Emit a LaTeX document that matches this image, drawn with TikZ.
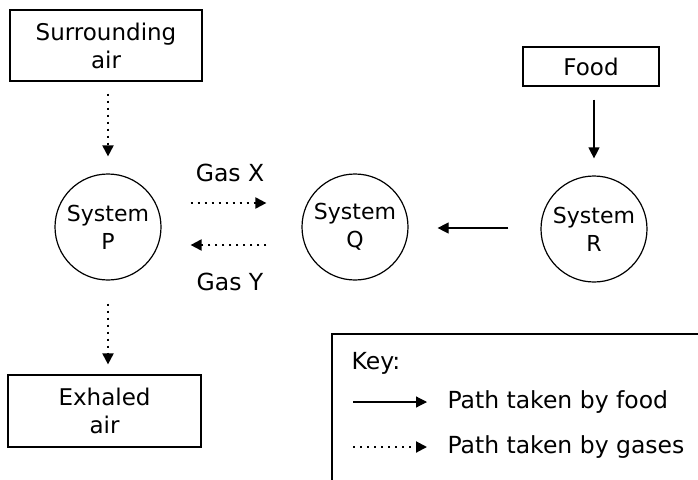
\documentclass[tikz,border=0pt]{standalone}
\usepackage{fontspec}
\setmainfont{DejaVu Sans}
\usetikzlibrary{positioning,arrows.meta}

\begin{document}
\begin{tikzpicture}[x=1pt,y=-1pt,
    system/.style={circle,draw,line width=1.2pt,inner sep=0pt,minimum size=106pt,align=center,font=\fontsize{22}{28}\selectfont},
    place/.style={rectangle,draw,line width=1.2pt,inner sep=0pt,align=center,font=\fontsize{23}{28}\selectfont},
    label/.style={font=\fontsize{23.5}{27}\selectfont},
    foodpath/.style={-{Triangle[length=11pt,width=11pt]},line width=1.2pt},
    gaspath/.style={-{Triangle[length=11pt,width=11pt]},line width=2pt,dash pattern=on 2pt off 5pt}
    ]

    \useasboundingbox (0,0) rectangle (698,479);

    % the three systems
    \node (P) [system] at (108,227) {System\\P};
    \node (Q) [system] at (355,227) {System\\Q};
    \node (R) [system] at (594,229) {System\\R};

    % boxes
    \node (air) [place,minimum width=192pt,minimum height=71pt] at (106,45.5) {Surrounding\\air};
    \node (exhaled) [place,minimum width=193pt,minimum height=72pt] at (104.5,411) {Exhaled\\air};
    \node (food) [place,minimum width=136pt,minimum height=39pt] at (591,66.5) {Food};

    % paths
    \draw[gaspath,shorten <=12pt,shorten >=17pt] (P.north |- air.south) -- (P.north);
    \draw[gaspath,shorten <=23pt,shorten >=10pt] (P.south) -- (exhaled.north -| P.south);
    \draw[foodpath,shorten <=13pt,shorten >=17pt] (food.south -| R.north) -- (R.north);
    \draw[foodpath,shorten <=32pt,shorten >=29pt] ([yshift=1pt]R.west) -- ([yshift=1pt]R.west -| Q.east);

    \draw[gaspath,shorten <=29pt,shorten >=35pt] ([yshift=24pt]P.east) -- ([yshift=24pt]Q.west);
    \draw[gaspath,shorten <=35pt,shorten >=29pt] ([yshift=-18pt]Q.west) -- ([yshift=-18pt]P.east);
    \node (gasX) [label] at (230,173) {Gas X};
    \node (gasY) [label] at (230,282) {Gas Y};

    % key
    \draw[line width=1.2pt] (332,490) |- (710,334);
    \node (key) [label,anchor=west] at (348,363) {Key:};
    \node (keyfood) [label,anchor=west] at (444,402) {Path taken by food};
    \node (keygas) [label,anchor=west] at (444,447) {Path taken by gases};
    \coordinate (kf) at (353,402);
    \coordinate (kg) at (353,447);
    \draw[foodpath,shorten >=17pt] (kf) -- (keyfood.west);
    \draw[gaspath,shorten >=17pt] (kg) -- (keygas.west);

  \end{tikzpicture}
\end{document}
